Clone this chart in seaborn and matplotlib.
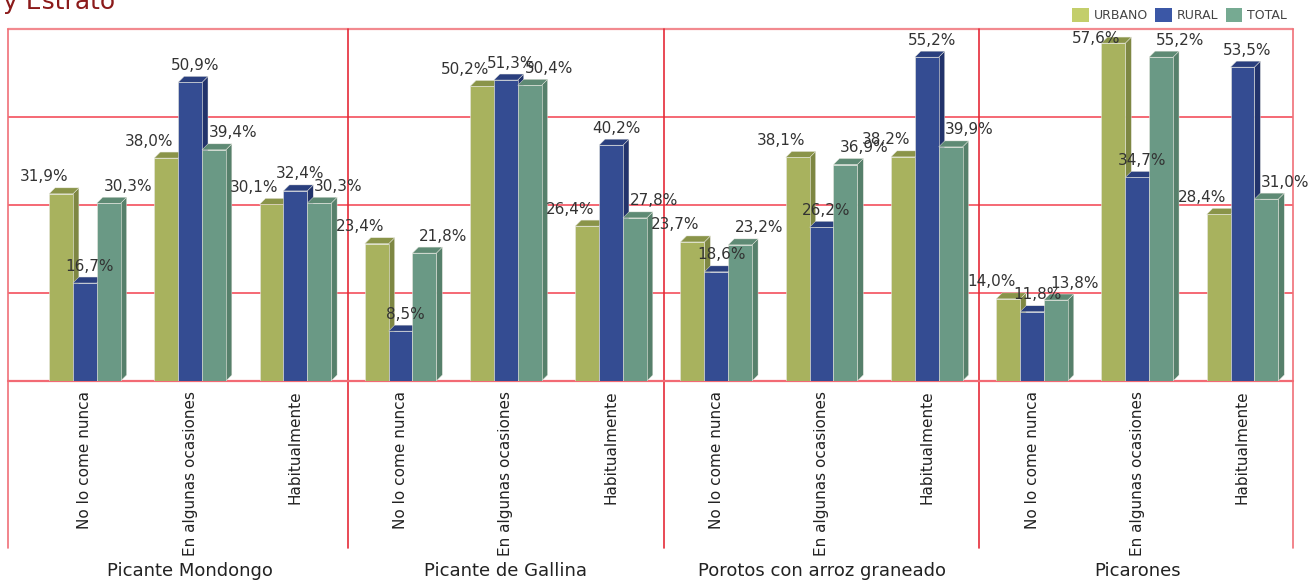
import pandas as pd
import numpy as np
import matplotlib
matplotlib.use("Agg")
import matplotlib.pyplot as plt
from matplotlib.patches import Polygon, Patch
import seaborn as sns

# data
grupos = ["Picante Mondongo", "Picante de Gallina", "Porotos con arroz graneado", "Picarones"]
frecuencias = ["No lo come nunca", "En algunas ocasiones", "Habitualmente"]
zonas = ["URBANO", "RURAL", "TOTAL"]
urbano = [31.9, 38.0, 30.1, 23.4, 50.2, 26.4, 23.7, 38.1, 38.2, 14.0, 57.6, 28.4]
rural = [16.7, 50.9, 32.4, 8.5, 51.3, 40.2, 18.6, 26.2, 55.2, 11.8, 34.7, 53.5]
total = [30.3, 39.4, 30.3, 21.8, 50.4, 27.8, 23.2, 36.9, 39.9, 13.8, 55.2, 31.0]

claves = [g + "|" + f for g in grupos for f in frecuencias]
df = pd.DataFrame({
    "clave": claves * 3,
    "zona": np.repeat(zonas, len(claves)),
    "valor": urbano + rural + total,
})

frente = ["#A8B25E", "#344C92", "#6A9985"]
lado = ["#7E8743", "#22336B", "#56806B"]
arriba = ["#8A9449", "#2A3F7E", "#5E8A74"]
leyenda = ["#C3CE6B", "#3B57A6", "#76AA92"]
rojo = "#F2404E"

sns.set_style("white")
plt.rcParams["font.family"] = ["DejaVu Sans"]

fig = plt.figure(figsize=(13.13, 5.85), dpi=100)
W, H = 1313, 585
ax = fig.add_axes([8 / W, (H - 381) / H, (1293 - 8) / W, (381 - 29) / H])

sns.barplot(data=df, x="clave", y="valor", hue="zona", order=claves, hue_order=zonas,
            palette=frente, saturation=1, width=0.68, gap=0, legend=False, ax=ax)

x_izq, x_der = -0.73, 11.48
ax.set_xlim(x_izq, x_der)
ax.set_ylim(0, 60)

# 3d look
px_x = (1293 - 8) / (x_der - x_izq)
px_y = (381 - 29) / 60
dx = 6 / px_x
dy = 6 / px_y

barras = list(ax.patches)
n = len(claves)
for i, p in enumerate(barras):
    k = i // n
    x0, w, h = p.get_x(), p.get_width(), p.get_height()
    x1 = x0 + w
    p.set_zorder(2.2 + 0.2 * k)
    p.set_edgecolor("#E8E8E0")
    p.set_linewidth(0.4)
    ax.add_patch(Polygon([(x1, 0), (x1, h), (x1 + dx, h + dy), (x1 + dx, dy)],
                         closed=True, facecolor=lado[k], edgecolor="#E8E8E0",
                         linewidth=0.3, zorder=2.1 + 0.2 * k))
    ax.add_patch(Polygon([(x0, h), (x1, h), (x1 + dx, h + dy), (x0 + dx, h + dy)],
                         closed=True, facecolor=arriba[k], edgecolor="#E8E8E0",
                         linewidth=0.3, zorder=2.1 + 0.2 * k))
    desp = [-17, 5, 19][k]
    y_lab = min(h + 17 / px_y, 58.3)
    ax.annotate(f"{h:.1f}%".replace(".", ","), (x0 + w / 2, y_lab), xytext=(desp, 0),
                textcoords="offset pixels", ha="center", va="center",
                fontsize=11, color="#333333", zorder=6)

# grid and frame
ax.set_yticks([0, 15, 30, 45, 60])
ax.set_yticklabels([])
ax.yaxis.grid(True, color=rojo, linewidth=1.1)
ax.set_axisbelow(True)
for s in ax.spines.values():
    s.set_visible(False)
ax.axhline(0, color="#F26A74", linewidth=1.6, zorder=1.5, clip_on=False)
ax.axhline(60, color="#F28A8F", linewidth=1.6, zorder=1, clip_on=False)
abajo = (381 - 548) / (381 - 29)
for xv in [x_izq, 2.5, 5.5, 8.5, x_der]:
    c = "#E52B38" if xv not in (x_izq, x_der) else "#F07078"
    ax.plot([xv, xv], [abajo, 1], color=c, linewidth=1.2,
            transform=ax.get_xaxis_transform(), clip_on=False, zorder=1)

ax.set_xticks(range(n))
ax.set_xticklabels(frecuencias * len(grupos), rotation=90, fontsize=11, color="#222222", va="top")
ax.tick_params(axis="x", length=0, pad=7)
ax.tick_params(axis="y", length=0)
ax.set_xlabel("")
ax.set_ylabel("")

for g, nombre in enumerate(grupos):
    ax.text(3 * g + 1, (381 - 571) / (381 - 29), nombre, transform=ax.get_xaxis_transform(),
            ha="center", va="center", fontsize=13, color="#222222")

# title and legend
fig.text(3 / W, 1 - 9 / H, "y Estrato", color="#8B1A1A", fontsize=18, va="baseline")
manijas = [Patch(facecolor=c, edgecolor="none") for c in leyenda]
fig.legend(manijas, zonas, ncol=3, loc="upper right", bbox_to_anchor=(1298 / W, 1 + 3 / H),
           frameon=False, fontsize=9, handlelength=1.3, handleheight=1.3,
           columnspacing=0.6, handletextpad=0.4, labelcolor="#444444")

plt.savefig("out.png", dpi=100)
